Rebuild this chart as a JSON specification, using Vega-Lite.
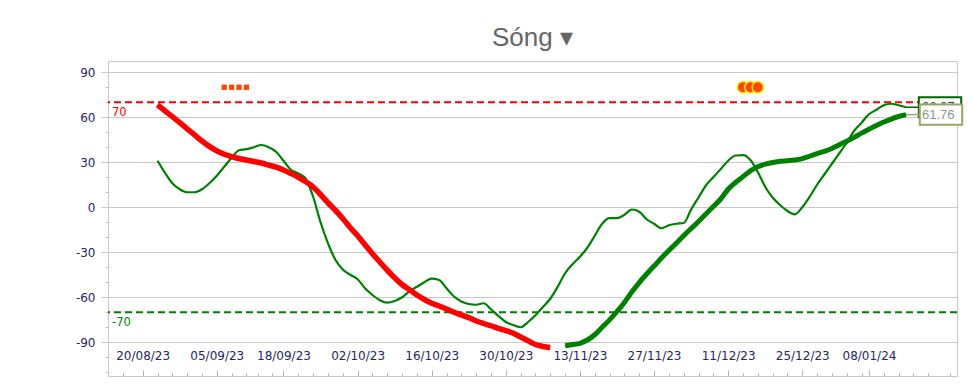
{
  "$schema": "https://vega.github.io/schema/vega-lite/v6.json",
  "autosize": "none",
  "width": 849,
  "height": 315,
  "padding": {"left": 108, "top": 61, "right": 16, "bottom": 15},
  "background": "white",
  "title": {"text": "Sóng ▾", "frame": "group", "anchor": "middle", "font": "Liberation Sans", "fontSize": 26, "fontWeight": "normal", "color": "#666666", "offset": 10},
  "config": {"view": {"stroke": "#c8c8c8", "strokeWidth": 1}},
  "datasets": {
    "fast": [
      {"i":2,"v":31},{"i":3,"v":23},{"i":4,"v":16},{"i":5,"v":12},{"i":6,"v":10},{"i":7,"v":10},{"i":8,"v":12},{"i":9,"v":16},{"i":10,"v":21},{"i":11,"v":27},
      {"i":12,"v":33},{"i":13,"v":38},{"i":14,"v":38.7},{"i":15,"v":40},{"i":16,"v":41.5},{"i":17,"v":40},{"i":18,"v":37},{"i":19,"v":31},{"i":20,"v":25},{"i":21,"v":22.5},
      {"i":22,"v":19},{"i":23,"v":7},{"i":24,"v":-10},{"i":25,"v":-24},{"i":26,"v":-35},{"i":27,"v":-41.5},{"i":28,"v":-45},{"i":29,"v":-48},{"i":30,"v":-54},{"i":31,"v":-58.5},
      {"i":32,"v":-62},{"i":33,"v":-63.6},{"i":34,"v":-62.5},{"i":35,"v":-60},{"i":36,"v":-56},{"i":37,"v":-53},{"i":38,"v":-50},{"i":39,"v":-47.6},{"i":40,"v":-48.5},{"i":41,"v":-54},
      {"i":42,"v":-59.5},{"i":43,"v":-62.8},{"i":44,"v":-64.5},{"i":45,"v":-65},{"i":46,"v":-64},{"i":47,"v":-68},{"i":48,"v":-72.5},{"i":49,"v":-76.5},{"i":50,"v":-78.5},{"i":51,"v":-80},
      {"i":52,"v":-76.5},{"i":53,"v":-72},{"i":54,"v":-66.5},{"i":55,"v":-61},{"i":56,"v":-53},{"i":57,"v":-44},{"i":58,"v":-38},{"i":59,"v":-33},{"i":60,"v":-27},{"i":61,"v":-19},
      {"i":62,"v":-11},{"i":63,"v":-7.3},{"i":64,"v":-7.3},{"i":65,"v":-5},{"i":66,"v":-1.5},{"i":67,"v":-3},{"i":68,"v":-8},{"i":69,"v":-11},{"i":70,"v":-14},{"i":71,"v":-12},
      {"i":72,"v":-11},{"i":73,"v":-10.5},{"i":74,"v":-1.5},{"i":75,"v":6.5},{"i":76,"v":14.5},{"i":77,"v":20},{"i":78,"v":25.5},{"i":79,"v":31},{"i":80,"v":34.5},{"i":81,"v":34.7},
      {"i":82,"v":31.5},{"i":83,"v":23.5},{"i":84,"v":13.7},{"i":85,"v":6.5},{"i":86,"v":1.5},{"i":87,"v":-2.5},{"i":88,"v":-4.7},{"i":89,"v":0},{"i":90,"v":7},{"i":91,"v":15},
      {"i":92,"v":22},{"i":93,"v":29},{"i":94,"v":36},{"i":95,"v":43},{"i":96,"v":51},{"i":97,"v":56.4},{"i":98,"v":62},{"i":99,"v":65},{"i":100,"v":68},{"i":101,"v":69},
      {"i":102,"v":68},{"i":103,"v":66.67}
    ],
    "slowDown": [
      {"i":2,"v":68.2},{"i":3,"v":64.3},{"i":4,"v":60.4},{"i":5,"v":56.4},{"i":6,"v":52.3},{"i":7,"v":48.2},{"i":8,"v":44.2},{"i":9,"v":40.6},{"i":10,"v":37.6},{"i":11,"v":35.3},
      {"i":12,"v":33.8},{"i":13,"v":32.5},{"i":14,"v":31.5},{"i":15,"v":30.5},{"i":16,"v":29.5},{"i":17,"v":28.1},{"i":18,"v":26.7},{"i":19,"v":24.8},{"i":20,"v":22.5},{"i":21,"v":20},
      {"i":22,"v":17},{"i":23,"v":13.5},{"i":24,"v":8.5},{"i":25,"v":3},{"i":26,"v":-2},{"i":27,"v":-7.5},{"i":28,"v":-13.5},{"i":29,"v":-19},{"i":30,"v":-25},{"i":31,"v":-31},
      {"i":32,"v":-36.5},{"i":33,"v":-42},{"i":34,"v":-47},{"i":35,"v":-51.5},{"i":36,"v":-55},{"i":37,"v":-58.5},{"i":38,"v":-61.5},{"i":39,"v":-64},{"i":40,"v":-65.8},{"i":41,"v":-67.8},
      {"i":42,"v":-70},{"i":43,"v":-71.8},{"i":44,"v":-73.6},{"i":45,"v":-75.8},{"i":46,"v":-77.5},{"i":47,"v":-79},{"i":48,"v":-80.8},{"i":49,"v":-82.3},{"i":50,"v":-84},{"i":51,"v":-86.5},
      {"i":52,"v":-89},{"i":53,"v":-91.5},{"i":54,"v":-92.8},{"i":55,"v":-93.6}
    ],
    "slowUp": [
      {"i":57,"v":-92.3},{"i":58,"v":-91.5},{"i":59,"v":-90.7},{"i":60,"v":-88.5},{"i":61,"v":-85},{"i":62,"v":-80},{"i":63,"v":-75.1},{"i":64,"v":-69.5},{"i":65,"v":-63.5},{"i":66,"v":-56.5},
      {"i":67,"v":-50.2},{"i":68,"v":-44.5},{"i":69,"v":-39.2},{"i":70,"v":-33.8},{"i":71,"v":-28.8},{"i":72,"v":-24},{"i":73,"v":-19},{"i":74,"v":-14.2},{"i":75,"v":-9.5},{"i":76,"v":-4.5},
      {"i":77,"v":0.5},{"i":78,"v":5.5},{"i":79,"v":12},{"i":80,"v":16.5},{"i":81,"v":20.4},{"i":82,"v":24.2},{"i":83,"v":27},{"i":84,"v":28.7},{"i":85,"v":29.8},{"i":86,"v":30.7},
      {"i":87,"v":31},{"i":88,"v":31.5},{"i":89,"v":32.4},{"i":90,"v":34},{"i":91,"v":35.7},{"i":92,"v":37.3},{"i":93,"v":39.2},{"i":94,"v":41.7},{"i":95,"v":44},{"i":96,"v":46.6},
      {"i":97,"v":49.4},{"i":98,"v":52},{"i":99,"v":54.5},{"i":100,"v":56.8},{"i":101,"v":58.8},{"i":102,"v":60.5},{"i":103,"v":61.76}
    ],
    "refs": [
      {"v": 70, "label": "70", "kind": "high"},
      {"v": -70, "label": "-70", "kind": "low"}
    ],
    "squares": [{"i":11,"v":80},{"i":12,"v":80},{"i":13,"v":80},{"i":14,"v":80}],
    "circles": [{"i":81,"v":80},{"i":82,"v":80},{"i":83,"v":80}],
    "last": [
      {"i":103,"v":66.67,"label":"66.67","s":"fast"},
      {"i":103,"v":61.76,"label":"61.76","s":"slow"}
    ]
  },
  "resolve": {"axis": {"x": "independent", "y": "independent"}},
  "layer": [
    {
      "data": {"name": "refs"},
      "mark": {"type": "rule", "strokeWidth": 2, "strokeDash": [7, 4]},
      "encoding": {
        "y": {"field": "v", "type": "quantitative", "scale": {"domain": [-112.5, 97.5], "nice": false, "zero": false},
          "axis": {"values": [-90, -60, -30, 0, 30, 60, 90], "labelExpr": "'' + datum.value", "grid": true, "gridColor": "#c8c8c8", "tickColor": "#c8c8c8", "tickSize": 7, "domain": false, "labelFont": "DejaVu Sans", "labelFontSize": 12, "labelColor": "#262660", "labelPadding": 6, "title": null, "orient": "left"}},
        "color": {"field": "kind", "type": "nominal", "scale": {"domain": ["high", "low"], "range": ["#ff0000", "#008000"]}, "legend": null}
      }
    },
    {
      "data": {"name": "refs"},
      "mark": {"type": "text", "align": "left", "baseline": "top", "dx": 4, "dy": 5, "font": "DejaVu Sans", "fontSize": 11.5},
      "encoding": {
        "x": {"datum": -4.68, "type": "quantitative", "axis": null},
        "y": {"field": "v", "type": "quantitative", "axis": null},
        "text": {"field": "label"},
        "color": {"field": "kind", "type": "nominal", "scale": {"domain": ["high", "low"], "range": ["#ff2020", "#008000"]}, "legend": null}
      }
    },
    {
      "data": {"name": "fast"},
      "mark": {"type": "line", "color": "#008000", "strokeWidth": 2.2, "interpolate": "monotone"},
      "encoding": {
        "x": {"field": "i", "type": "quantitative", "scale": {"domain": [-4.68, 109.88], "nice": false, "zero": false},
          "axis": {"values": [0, 10, 19, 29, 39, 49, 59, 69, 79, 89, 98],
            "labelExpr": "['20/08/23','05/09/23','18/09/23','02/10/23','16/10/23','30/10/23','13/11/23','27/11/23','11/12/23','25/12/23','08/01/24'][indexof([0,10,19,29,39,49,59,69,79,89,98], datum.value)]",
            "ticks": false, "domain": false, "grid": false, "labelBaseline": "alphabetic", "labelPadding": -17, "labelFont": "DejaVu Sans", "labelFontSize": 12, "labelColor": "#262660", "labelOverlap": false, "labelFlush": false, "title": null, "orient": "bottom"}},
        "y": {"field": "v", "type": "quantitative",
          "axis": {"values": [-110, -100, -80, -70, -50, -40, -20, -10, 10, 20, 40, 50, 70, 80], "grid": false, "labels": false, "tickSize": 3, "tickColor": "#c0c0c0", "domain": false, "title": null, "orient": "left"}}
      }
    },
    {
      "data": {"name": "slowDown"},
      "mark": {"type": "line", "color": "#ff0000", "strokeWidth": 5.5, "interpolate": "monotone"},
      "encoding": {
        "x": {"field": "i", "type": "quantitative",
          "axis": {"values": [-2.7, 2, 4, 6, 8, 12, 14, 15.5, 17.4, 21, 23, 25, 27, 31, 33, 35, 37, 41, 43, 45, 47, 51, 53, 55, 57, 61, 63, 65, 67, 71, 73, 75, 77, 81, 83, 85, 87, 91, 93, 95, 97, 100, 102, 104, 106, 109],
            "labels": false, "tickSize": -3, "tickColor": "#b4b4b4", "domain": false, "grid": false, "title": null, "orient": "bottom"}},
        "y": {"field": "v", "type": "quantitative", "axis": null}
      }
    },
    {
      "data": {"name": "slowUp"},
      "mark": {"type": "line", "color": "#008000", "strokeWidth": 5, "interpolate": "monotone"},
      "encoding": {
        "x": {"field": "i", "type": "quantitative",
          "axis": {"values": [0, 10, 19, 29, 39, 49, 59, 69, 79, 89, 98], "labels": false, "tickSize": -6, "tickColor": "#b4b4b4", "domain": false, "grid": false, "title": null, "orient": "bottom"}},
        "y": {"field": "v", "type": "quantitative", "axis": null}
      }
    },
    {
      "data": {"name": "squares"},
      "mark": {"type": "point", "shape": "square", "filled": true, "color": "#ff4500", "size": 28, "opacity": 1},
      "encoding": {
        "x": {"field": "i", "type": "quantitative", "axis": null},
        "y": {"field": "v", "type": "quantitative", "axis": null}
      }
    },
    {
      "data": {"name": "circles"},
      "mark": {"type": "circle", "fill": "#ff4500", "stroke": "#ffee00", "strokeWidth": 1.5, "size": 130, "opacity": 1},
      "encoding": {
        "x": {"field": "i", "type": "quantitative", "axis": null},
        "y": {"field": "v", "type": "quantitative", "axis": null}
      }
    },
    {
      "data": {"name": "last"},
      "transform": [{"filter": "datum.s === 'fast'"}],
      "layer": [
        {"mark": {"type": "rule", "color": "#006400", "strokeWidth": 1.5, "x2Offset": 13},
         "encoding": {"x": {"field": "i", "type": "quantitative", "axis": null}, "x2": {"field": "i"}, "y": {"field": "v", "type": "quantitative", "axis": null}}},
        {"mark": {"type": "point", "shape": "M-1,-0.476H1V0.476H-1Z", "size": 1800, "filled": true, "fill": "white", "stroke": "#006400", "strokeWidth": 2, "opacity": 1, "xOffset": 34},
         "encoding": {"x": {"field": "i", "type": "quantitative", "axis": null}, "y": {"field": "v", "type": "quantitative", "axis": null}}},
        {"mark": {"type": "text", "align": "left", "baseline": "middle", "dx": 16, "font": "Liberation Sans", "fontSize": 13, "color": "#1d4f5a"},
         "encoding": {"x": {"field": "i", "type": "quantitative", "axis": null}, "y": {"field": "v", "type": "quantitative", "axis": null}, "text": {"field": "label"}}}
      ]
    },
    {
      "data": {"name": "last"},
      "transform": [{"filter": "datum.s === 'slow'"}],
      "layer": [
        {"mark": {"type": "rule", "color": "#9aa36b", "strokeWidth": 1.5, "x2Offset": 14},
         "encoding": {"x": {"field": "i", "type": "quantitative", "axis": null}, "x2": {"field": "i"}, "y": {"field": "v", "type": "quantitative", "axis": null}}},
        {"mark": {"type": "point", "shape": "M-1,-0.476H1V0.476H-1Z", "size": 1800, "filled": true, "fill": "white", "stroke": "#9aa36b", "strokeWidth": 2, "opacity": 1, "xOffset": 35},
         "encoding": {"x": {"field": "i", "type": "quantitative", "axis": null}, "y": {"field": "v", "type": "quantitative", "axis": null}}},
        {"mark": {"type": "text", "align": "left", "baseline": "middle", "dx": 16, "font": "Liberation Sans", "fontSize": 13, "color": "#8a9a88"},
         "encoding": {"x": {"field": "i", "type": "quantitative", "axis": null}, "y": {"field": "v", "type": "quantitative", "axis": null}, "text": {"field": "label"}}}
      ]
    }
  ]
}
